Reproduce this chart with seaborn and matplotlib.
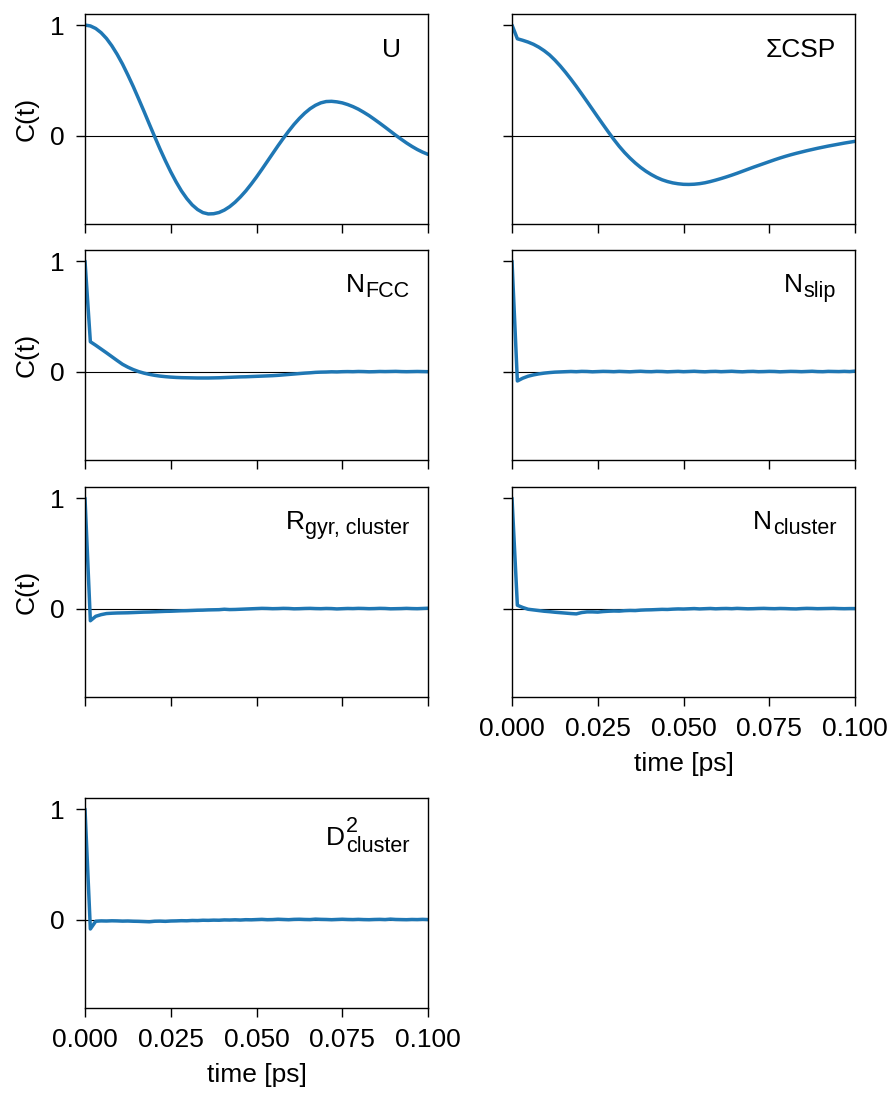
import numpy as np
import matplotlib
matplotlib.use("Agg")
import matplotlib.pyplot as plt
import seaborn as sns
from matplotlib.ticker import FormatStrFormatter

# sampling grid of the correlation functions [ps]
time_ps = np.linspace(0.0, 0.1, 65)

c_energy = [
    1.000, 0.992, 0.969, 0.931, 0.879, 0.813, 0.735, 0.647, 0.548, 0.444,
    0.333, 0.220, 0.104, -0.010, -0.122, -0.228, -0.328, -0.419, -0.501, -0.570,
    -0.627, -0.669, -0.697, -0.709, -0.707, -0.696, -0.674, -0.643, -0.603, -0.555,
    -0.501, -0.440, -0.375, -0.306, -0.235, -0.164, -0.093, -0.025, 0.040, 0.101,
    0.155, 0.203, 0.243, 0.274, 0.296, 0.308, 0.310, 0.305, 0.296, 0.281,
    0.262, 0.239, 0.211, 0.181, 0.147, 0.112, 0.076, 0.039, 0.002, -0.033,
    -0.067, -0.098, -0.126, -0.150, -0.170,
]
c_csp = [
    1.000, 0.876, 0.862, 0.846, 0.826, 0.800, 0.768, 0.730, 0.683, 0.630,
    0.572, 0.510, 0.445, 0.377, 0.308, 0.238, 0.168, 0.099, 0.031, -0.035,
    -0.097, -0.153, -0.203, -0.248, -0.288, -0.323, -0.353, -0.379, -0.400, -0.416,
    -0.428, -0.436, -0.441, -0.442, -0.440, -0.435, -0.427, -0.416, -0.403, -0.389,
    -0.374, -0.358, -0.341, -0.323, -0.305, -0.287, -0.270, -0.253, -0.236, -0.219,
    -0.203, -0.188, -0.174, -0.161, -0.149, -0.137, -0.126, -0.115, -0.105, -0.095,
    -0.086, -0.077, -0.068, -0.060, -0.052,
]
c_nfcc = [
    1.000, 0.270, 0.238, 0.204, 0.170, 0.135, 0.100, 0.066, 0.040, 0.018,
    0.000, -0.014, -0.025, -0.034, -0.041, -0.046, -0.050, -0.053, -0.055, -0.056,
    -0.057, -0.058, -0.058, -0.058, -0.057, -0.056, -0.054, -0.052, -0.050, -0.048,
    -0.047, -0.045, -0.043, -0.041, -0.039, -0.037, -0.034, -0.030, -0.026, -0.022,
    -0.018, -0.014, -0.011, -0.007, -0.005, -0.004, -0.002, -0.003, -0.001, 0.000,
    -0.001, 0.001, 0.000, -0.002, -0.001, 0.001, 0.000, 0.001, 0.002, 0.000,
    -0.001, 0.000, 0.001, 0.000, -0.001,
]
c_nslip = [
    1.000, -0.085, -0.060, -0.042, -0.030, -0.021, -0.014, -0.009, -0.005, -0.003,
    -0.001, 0.001, -0.001, 0.002, 0.001, -0.002, 0.000, 0.002, 0.001, -0.001,
    0.002, 0.000, -0.002, 0.001, 0.003, 0.000, -0.001, 0.002, 0.001, -0.002,
    0.000, 0.002, -0.001, 0.001, 0.003, 0.000, -0.002, 0.001, 0.002, -0.001,
    0.001, 0.003, 0.000, -0.002, 0.001, 0.002, -0.001, 0.000, 0.002, 0.001,
    -0.002, 0.000, 0.002, 0.001, -0.001, 0.001, 0.003, 0.000, -0.001, 0.002,
    0.001, 0.000, 0.002, 0.000, 0.004,
]
c_rgyr = [
    1.000, -0.110, -0.070, -0.055, -0.045, -0.042, -0.040, -0.039, -0.038, -0.036,
    -0.034, -0.032, -0.031, -0.029, -0.027, -0.025, -0.024, -0.022, -0.020, -0.019,
    -0.017, -0.015, -0.014, -0.012, -0.011, -0.010, -0.006, -0.009, -0.008, -0.006,
    -0.004, -0.002, 0.000, 0.002, 0.001, -0.001, 0.000, 0.002, 0.001, -0.002,
    -0.001, 0.001, 0.002, 0.000, -0.001, 0.001, 0.000, -0.003, -0.001, 0.001,
    0.000, 0.002, 0.001, -0.001, 0.000, 0.002, 0.001, -0.002, -0.001, 0.000,
    0.002, 0.000, -0.001, 0.001, 0.003,
]
c_ncluster = [
    1.000, 0.030, 0.010, -0.006, -0.012, -0.018, -0.024, -0.028, -0.033, -0.037,
    -0.041, -0.045, -0.048, -0.036, -0.030, -0.030, -0.032, -0.027, -0.024, -0.022,
    -0.023, -0.019, -0.017, -0.018, -0.014, -0.012, -0.011, -0.009, -0.007, -0.008,
    -0.005, -0.003, -0.004, -0.002, 0.000, -0.003, -0.001, 0.001, -0.002, 0.000,
    0.001, -0.001, 0.002, 0.000, -0.002, -0.001, 0.001, 0.002, 0.000, -0.001,
    0.001, 0.000, -0.002, -0.003, 0.000, 0.002, 0.001, -0.001, 0.000, 0.001,
    0.002, 0.000, -0.001, 0.000, 0.000,
]
c_d2 = [
    1.000, -0.085, -0.015, -0.012, -0.013, -0.011, -0.012, -0.014, -0.013, -0.015,
    -0.016, -0.018, -0.020, -0.015, -0.014, -0.016, -0.013, -0.012, -0.010, -0.011,
    -0.008, -0.009, -0.006, -0.007, -0.005, -0.006, -0.003, -0.004, -0.002, -0.004,
    -0.001, -0.002, 0.000, 0.002, -0.001, 0.000, 0.003, 0.001, -0.001, 0.002,
    0.003, 0.001, 0.000, 0.004, 0.002, 0.001, -0.001, 0.001, 0.003, 0.001,
    0.000, 0.002, 0.000, -0.001, 0.001, 0.002, 0.000, 0.004, 0.001, 0.000,
    -0.001, 0.001, 0.000, 0.002, 0.000,
]

# panel labels: main symbol, subscript, superscript
label_main = ["U", "ΣCSP", "N", "N", "R", "N", "D"]
label_sub = [None, None, "FCC", "slip", "gyr, cluster", "cluster", "cluster"]
label_sup = [None, None, None, None, None, None, "2"]
series = [c_energy, c_csp, c_nfcc, c_nslip, c_rgyr, c_ncluster, c_d2]

sns.set_theme(style="ticks")
plt.rcParams["font.family"] = ["Liberation Sans", "DejaVu Sans"]
plt.rcParams.update({
    "font.size": 19,
    "axes.labelsize": 19,
    "xtick.labelsize": 19,
    "ytick.labelsize": 19,
    "text.color": "black",
    "axes.labelcolor": "black",
    "axes.edgecolor": "black",
    "axes.linewidth": 1.0,
    "xtick.color": "black",
    "ytick.color": "black",
    "xtick.major.size": 6.5,
    "ytick.major.size": 6.5,
    "xtick.major.width": 1.0,
    "ytick.major.width": 1.0,
    "xtick.major.pad": 8,
    "ytick.major.pad": 8,
    "axes.labelpad": 8,
})


def corner_label(ax, main, sub, sup, x_right):
    big, small = 19, 15.5
    if sub is None:
        ax.text(x_right, 0.797, main, transform=ax.transAxes, ha="right",
                va="baseline", fontsize=big)
        return
    descent = 0.212 * small
    if sup:
        # superscript stacked over the subscript in one text block
        s = ax.text(x_right, 0.742, sup + "\n" + sub, transform=ax.transAxes,
                    ha="right", va="baseline", multialignment="left",
                    linespacing=0.98, fontsize=small)
        drop = 5.3
    else:
        s = ax.text(x_right, 0.777, sub, transform=ax.transAxes, ha="right",
                    va="baseline", fontsize=small)
        drop = 3.5
    ax.annotate(main, xy=(0, 0), xycoords=s, xytext=(-0.3, drop + descent),
                textcoords="offset points", ha="right", va="baseline", fontsize=big)


W, H = 893, 1093
fig = plt.figure(figsize=(W / 100, H / 100), dpi=100)

# panel corners in pixels (left, top), all panels 343x210
corners = [(85, 14), (512, 14), (85, 250), (512, 250), (85, 487), (512, 487), (85, 798)]

for i, vals in enumerate(series):
    x0, y0 = corners[i]
    ax = fig.add_axes([x0 / W, 1 - (y0 + 210) / H, 343 / W, 210 / H])
    ax.axhline(0, color="black", lw=0.8, zorder=1)
    sns.lineplot(x=time_ps, y=vals, ax=ax, color="#1f77b4", linewidth=2.5, zorder=2)
    ax.set_xlim(0, 0.1)
    ax.set_ylim(-0.8, 1.1)
    ax.set_xticks([0, 0.025, 0.05, 0.075, 0.1])
    ax.set_yticks([0, 1])
    ax.xaxis.set_major_formatter(FormatStrFormatter("%.3f"))
    ax.yaxis.set_major_formatter(FormatStrFormatter("%g"))

    left_col = i % 2 == 0
    bottom = i in (5, 6)
    ax.tick_params(labelleft=left_col, labelbottom=bottom)
    ax.set_ylabel("C(t)" if i in (0, 2, 4) else "")
    ax.set_xlabel("time [ps]" if bottom else "")

    corner_label(ax, label_main[i], label_sub[i], label_sup[i],
                 0.921 if i == 0 else 0.945)

fig.savefig("out.png", dpi=100)
